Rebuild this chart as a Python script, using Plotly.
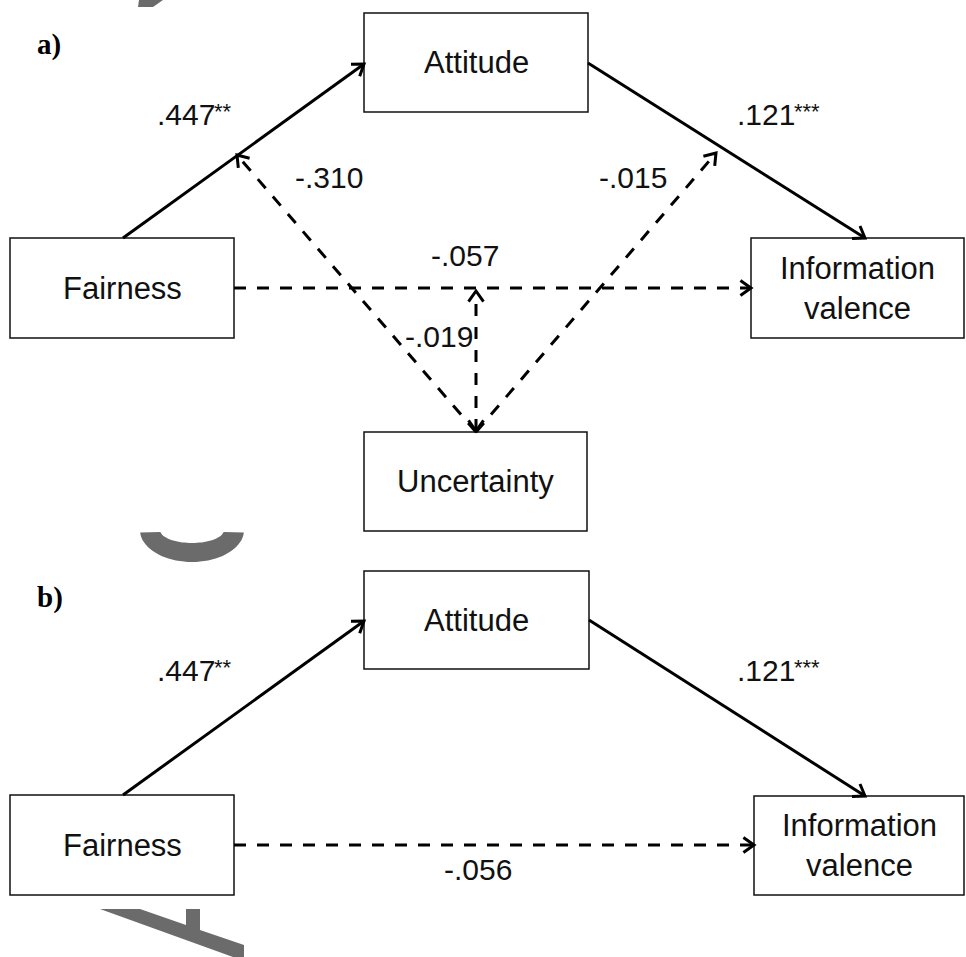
import math
import plotly.graph_objects as go

W, H = 966, 957

# ---------------- data ----------------
panel_tags = ["a)", "b)"]
panel_tag_pos = [(49, 44), (50, 597)]

# Panel a nodes
nodes_a = ["Fairness", "Attitude", "Information<br>valence", "Uncertainty"]
boxes_a = [(10, 238, 234, 338), (364, 13, 588, 112), (751, 238, 964, 338), (364, 432, 587, 531)]
# Panel b nodes
nodes_b = ["Fairness", "Attitude", "Information<br>valence"]
boxes_b = [(10, 795, 234, 895), (364, 571, 589, 669), (754, 796, 964, 895)]

# Paths: coefficients and significance stars
coef_a = [".447", ".121", "-.057", "-.310", "-.015", "-.019"]
stars_a = ["**", "***", "", "", "", ""]
style_a = ["solid", "solid", "dash", "dash", "dash", "dash"]
both_ends_a = [False, False, False, False, False, True]
edge_a = [((123, 238), (364, 64)), ((588, 63), (865, 238)), ((234, 288), (751, 288)),
          ((476, 432), (237, 155)), ((476, 432), (716, 153)), ((476, 431), (476, 291))]
label_a = [(155, 114), (735, 114), (429, 255), (293, 177), (597, 177), (403, 336)]

coef_b = [".447", ".121", "-.056"]
stars_b = ["**", "***", ""]
style_b = ["solid", "solid", "dash"]
both_ends_b = [False, False, False]
edge_b = [((123, 795), (364, 621)), ((589, 620), (865, 796)), ((234, 845), (754, 845))]
label_b = [(155, 670), (735, 670), (442, 869)]

# ---------------- figure ----------------
fig = go.Figure()
shapes = []
annotations = []

FONT = "Liberation Sans, Arial, sans-serif"
GREY = "#6b6b6b"
LABEL_SIZE = 30
STAR_SIZE = 22
CHAR_W = {".": 0.278, "-": 0.333}


def text_width(s, size):
    return sum(CHAR_W.get(ch, 0.556) for ch in s) * size


def arrowhead(tip, back, length=13, ang=35):
    ux, uy = back[0] - tip[0], back[1] - tip[1]
    n = math.hypot(ux, uy)
    ux, uy = ux / n, uy / n
    pts = []
    for s in (-1, 1):
        a = math.radians(ang * s)
        rx = ux * math.cos(a) - uy * math.sin(a)
        ry = ux * math.sin(a) + uy * math.cos(a)
        pts.append((tip[0] + rx * length, tip[1] + ry * length))
    return "M {:.1f},{:.1f} L {:.1f},{:.1f} L {:.1f},{:.1f}".format(
        pts[0][0], pts[0][1], tip[0], tip[1], pts[1][0], pts[1][1])


def add_panel(names, boxes, coefs, stars, styles, both, edges, labels):
    for name, (x0, y0, x1, y1) in zip(names, boxes):
        shapes.append(dict(type="rect", xref="x", yref="y", x0=x0, y0=y0, x1=x1, y1=y1,
                           line=dict(color="#111111", width=1.5), fillcolor="rgba(0,0,0,0)"))
        annotations.append(dict(x=(x0 + x1) / 2, y=(y0 + y1) / 2, xref="x", yref="y",
                                text=name, showarrow=False, xanchor="center", yanchor="middle",
                                font=dict(family=FONT, size=31, color="#111111")))
    for c, s, st, b2, (p0, p1), (lx, ly) in zip(coefs, stars, styles, both, edges, labels):
        shapes.append(dict(type="line", xref="x", yref="y", x0=p0[0], y0=p0[1], x1=p1[0], y1=p1[1],
                           line=dict(color="black", width=3,
                                     dash="solid" if st == "solid" else "12px,11px")))
        shapes.append(dict(type="path", xref="x", yref="y", path=arrowhead(p1, p0),
                           line=dict(color="black", width=3)))
        if b2:
            shapes.append(dict(type="path", xref="x", yref="y", path=arrowhead(p0, p1),
                               line=dict(color="black", width=3)))
        annotations.append(dict(x=lx, y=ly, xref="x", yref="y", text=c, showarrow=False,
                                xanchor="left", yanchor="middle",
                                font=dict(family=FONT, size=LABEL_SIZE, color="#111111")))
        if s:
            annotations.append(dict(x=lx + text_width(c, LABEL_SIZE) - 1, y=ly - 2.5,
                                    xref="x", yref="y", text=s, showarrow=False,
                                    xanchor="left", yanchor="middle",
                                    font=dict(family=FONT, size=STAR_SIZE, color="#111111")))


add_panel(nodes_a, boxes_a, coef_a, stars_a, style_a, both_ends_a, edge_a, label_a)
add_panel(nodes_b, boxes_b, coef_b, stars_b, style_b, both_ends_b, edge_b, label_b)

for tag, (tx, ty) in zip(panel_tags, panel_tag_pos):
    annotations.append(dict(x=tx, y=ty, xref="x", yref="y", text="<b>" + tag + "</b>",
                            showarrow=False, xanchor="center", yanchor="middle",
                            font=dict(family="Liberation Serif, Times New Roman, serif",
                                      size=29, color="black")))

# faint watermark fragments (decoration)
shapes.append(dict(type="path", xref="x", yref="y", path="M 139,0 L 163,0 L 153,7 L 138,7 Z",
                   fillcolor=GREY, line=dict(width=0)))
outer, inner = [], []
cx, cy = 192, 530
for i in range(41):
    t = math.pi * i / 40
    outer.append((cx - 52 * math.cos(t), cy + 32 * math.sin(t)))
    inner.append((cx + 32 * math.cos(t), cy + 13 * math.sin(t)))
pts = [p for p in outer if p[1] >= 532] + [p for p in inner if p[1] >= 532]
c_path = "M " + " L ".join("{:.1f},{:.1f}".format(x, y) for x, y in pts) + " Z"
shapes.append(dict(type="path", xref="x", yref="y", path=c_path, fillcolor=GREY, line=dict(width=0)))
shapes.append(dict(type="path", xref="x", yref="y",
                   path="M 100,909 L 140,909 L 186,925 L 186,909 L 200,909 L 200,930 L 244,945 L 244,957 L 233,957 Z",
                   fillcolor=GREY, line=dict(width=0)))

fig.update_layout(
    width=W, height=H,
    margin=dict(l=0, r=0, t=0, b=0),
    paper_bgcolor="white", plot_bgcolor="white",
    xaxis=dict(range=[0, W], visible=False, fixedrange=True),
    yaxis=dict(range=[H, 0], visible=False, fixedrange=True),
    shapes=shapes, annotations=annotations, showlegend=False,
)

fig.write_html("out.html",
               config={"displayModeBar": False},
               post_script="document.body.style.margin='0px';document.body.style.overflow='hidden';")
